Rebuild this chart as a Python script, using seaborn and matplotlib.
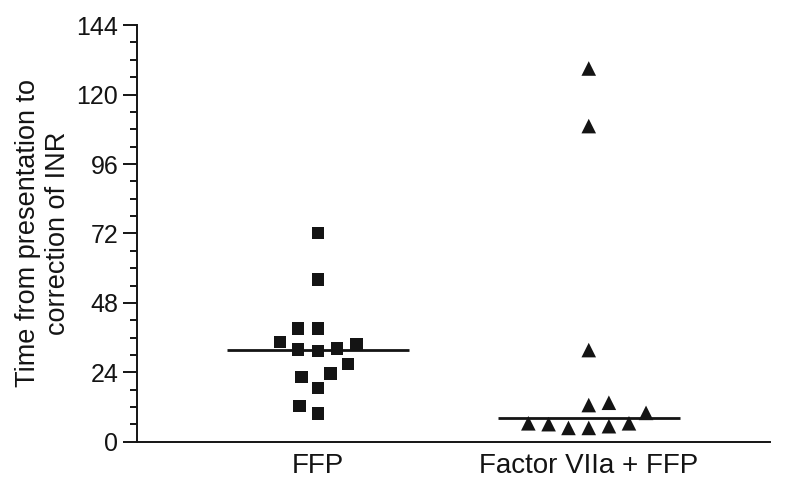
import numpy as np
import pandas as pd
import matplotlib
matplotlib.use("Agg")
import matplotlib.pyplot as plt
import seaborn as sns
from matplotlib.ticker import MultipleLocator

groups = ["FFP", "Factor VIIa + FFP"]
ffp_hours = [72.2, 56.1, 39.2, 39.2, 34.6, 33.7, 32.3, 31.9, 31.3, 26.8, 23.6, 22.3, 18.5, 12.4, 9.8]
f7_hours = [129.0, 109.1, 31.7, 13.5, 12.7, 10.0, 6.4, 6.4, 6.1, 5.4, 4.8, 4.8]
y_ticks = [0, 24, 48, 72, 96, 120, 144]
y_label = "Time from presentation to\ncorrection of INR"

sns.set_theme(style="ticks")
plt.rcParams["font.family"] = ["Liberation Sans", "DejaVu Sans"]

df = pd.DataFrame({
    "group": [groups[0]] * len(ffp_hours) + [groups[1]] * len(f7_hours),
    "hours": ffp_hours + f7_hours,
})

ink = "#141414"
fig = plt.figure(figsize=(7.87, 4.92), dpi=100)
ax = fig.add_axes([0.174, 0.102, 0.804, 0.847])

styles = {groups[0]: ("s", 8.9, 4.8), groups[1]: ("^", 10.5, 3.4)}
for g in groups:
    marker, size, edge = styles[g]
    sns.swarmplot(data=df[df["group"] == g], x="group", y="hours", order=groups,
                  marker=marker, size=size, color=ink, linewidth=edge,
                  edgecolor="none", ax=ax, zorder=3)

for coll in ax.collections:
    coll.set_edgecolor("none")

for i, g in enumerate(groups):
    med = np.median(df.loc[df["group"] == g, "hours"])
    ax.hlines(med, i - 0.336, i + 0.336, color=ink, lw=2.0, zorder=2)

ax.set_xlim(-0.668, 1.668)
ax.set_ylim(0, 144)
ax.set_yticks(y_ticks)
ax.yaxis.set_minor_locator(MultipleLocator(6))
ax.set_xlabel("")
ax.set_ylabel(y_label, fontsize=19.5, color=ink, labelpad=4)

for s in ["top", "right"]:
    ax.spines[s].set_visible(False)
for s in ["left", "bottom"]:
    ax.spines[s].set_color(ink)
    ax.spines[s].set_linewidth(1.4)

ax.tick_params(axis="x", length=0, labelsize=20, pad=8, colors=ink)
ax.tick_params(axis="y", which="major", length=10, width=1.4, labelsize=18, pad=3.5, colors=ink)
ax.tick_params(axis="y", which="minor", length=5, width=1.4, colors=ink)

fig.savefig("out.png", dpi=100, facecolor="white")
